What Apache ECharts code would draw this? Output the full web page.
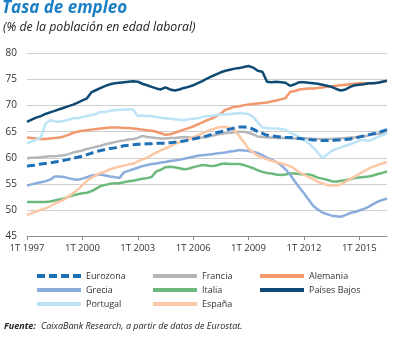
<!DOCTYPE html>
<html><head><meta charset="utf-8">
<script src="https://cdn.jsdelivr.net/npm/echarts@6/dist/echarts.min.js"></script>
<style>html,body{margin:0;padding:0;background:#fff}#c{width:394px;height:338px}</style>
</head><body><div id="c"></div>
<script>
// Categories: quarters 1T 1997 .. 3T 2016
const firstYear = 1997, lastYear = 2016, lastQuarter = 3;
const quarters = [];
for (let y = firstYear; y <= lastYear; y++) {
  for (let q = 1; q <= 4; q++) {
    if (y === lastYear && q > lastQuarter) break;
    quarters.push(q + 'T ' + y);
  }
}

const eurozona = [58.4,58.5,58.6,58.8, 58.9,59.0,59.2,59.3, 59.5,59.7,59.9,60.1, 60.3,60.6,60.9,61.2,
  61.4,61.6,61.8,61.9, 62.1,62.3,62.4,62.5, 62.6,62.6,62.7,62.7, 62.8,62.8,62.8,62.9,
  63.0,63.1,63.2,63.4, 63.6,63.8,64.0,64.2, 64.5,64.8,65.0,65.3, 65.5,65.7,65.9,65.9,
  65.8,65.5,65.0,64.7, 64.3,64.2,64.1,64.0, 63.9,63.9,63.8,63.7, 63.6,63.5,63.4,63.4,
  63.3,63.3,63.3,63.4, 63.4,63.5,63.6,63.8, 64.0,64.2,64.4,64.6, 64.8,65.1,65.4];

const francia = [59.9,60.0,60.0,60.1, 60.2,60.3,60.3,60.4, 60.5,60.7,61.0,61.2, 61.4,61.7,61.9,62.1,
  62.3,62.6,62.8,63.0, 63.2,63.3,63.5,63.6, 63.8,64.2,64.0,63.9, 63.8,63.7,63.7,63.8,
  63.8,63.9,64.0,63.9, 63.8,63.8,63.9,64.0, 64.2,64.4,64.6,64.7, 64.8,64.9,65.0,65.0,
  64.8,64.5,64.1,64.0, 63.9,63.9,63.8,63.8, 63.8,63.8,63.7,63.7, 63.7,63.7,63.6,63.6,
  63.6,63.6,63.6,63.7, 63.7,63.8,63.9,63.9, 64.0,64.1,64.3,64.5, 64.6,64.7,64.8];

const alemania = [63.9,63.8,63.7,63.6, 63.6,63.7,63.8,63.9, 64.1,64.4,64.8,65.0, 65.2,65.3,65.4,65.5,
  65.6,65.7,65.8,65.8, 65.8,65.7,65.7,65.6, 65.5,65.4,65.3,65.2, 65.0,64.7,64.4,64.5,
  64.8,65.1,65.4,65.7, 66.0,66.4,66.8,67.2, 67.5,68.0,68.5,69.2, 69.5,69.8,69.9,70.1,
  70.2,70.3,70.4,70.5, 70.6,70.8,71.0,71.2, 71.4,72.6,72.8,73.1, 73.2,73.3,73.3,73.4,
  73.5,73.6,73.7,73.8, 73.9,74.0,74.1,74.2, 74.3,74.3,74.3,74.3, 74.4,74.6,74.7];

const grecia = [54.7,54.9,55.1,55.3, 55.5,55.8,56.4,56.4, 56.3,56.1,55.9,55.8, 56.0,56.3,56.6,56.7,
  56.8,56.6,56.4,56.3, 56.1,57.2,57.5,57.8, 58.1,58.4,58.6,58.8, 58.9,59.1,59.2,59.4,
  59.5,59.6,59.8,60.0, 60.2,60.4,60.5,60.6, 60.7,60.8,60.9,61.0, 61.2,61.3,61.5,61.4,
  61.3,61.1,60.9,60.5, 60.0,59.6,59.2,58.6, 57.8,56.8,55.5,54.3, 53.2,52.0,50.8,50.1,
  49.5,49.2,48.9,48.8, 48.7,49.0,49.4,49.6, 49.9,50.2,50.6,51.1, 51.6,51.9,52.2];

const italia = [51.5,51.5,51.5,51.5, 51.5,51.6,51.8,52.0, 52.2,52.5,52.8,53.0, 53.2,53.3,53.6,54.1,
  54.6,54.8,55.0,55.1, 55.1,55.3,55.5,55.6, 55.8,56.0,56.1,56.3, 57.4,57.7,58.2,58.3,
  58.2,58.0,57.8,57.9, 58.2,58.4,58.6,58.5, 58.4,58.5,58.8,58.9, 58.8,58.8,58.8,58.6,
  58.3,58.0,57.6,57.3, 57.1,57.0,56.8,56.7, 56.8,57.0,57.0,56.9, 56.8,56.8,56.6,56.2,
  56.0,55.8,55.5,55.4, 55.6,55.7,55.9,56.1, 56.2,56.3,56.4,56.6, 56.9,57.1,57.4];

const paisesBajos = [66.9,67.3,67.7,68.0, 68.4,68.7,69.0,69.3, 69.6,69.9,70.2,70.6, 71.0,71.4,72.6,73.0,
  73.4,73.8,74.1,74.3, 74.4,74.5,74.6,74.7, 74.6,74.2,73.9,73.6, 73.3,73.1,73.5,73.1,
  72.9,73.1,73.4,73.6, 73.9,74.3,74.7,75.2, 75.6,76.0,76.4,76.7, 76.9,77.1,77.2,77.4,
  77.6,77.3,76.7,76.5, 74.6,74.5,74.6,74.5, 74.4,73.8,74.1,74.5, 74.5,74.4,74.3,74.2,
  74.0,73.8,73.6,73.2, 72.9,73.1,73.6,73.9, 74.0,74.1,74.3,74.3, 74.4,74.6,74.8];

const portugal = [62.8,63.1,63.5,63.9, 66.5,67.2,67.0,66.9, 67.1,67.3,67.6,67.6, 67.8,68.0,68.2,68.4,
  68.8,68.8,69.0,69.1, 69.2,69.2,69.3,69.2, 68.0,68.1,68.0,68.0, 67.8,67.7,67.6,67.5,
  67.4,67.3,67.2,67.4, 67.5,67.6,67.8,68.0, 68.0,68.2,68.3,68.3, 68.4,68.5,68.6,68.5,
  68.4,67.8,66.8,65.8, 65.7,65.6,65.6,65.5, 65.4,64.8,64.4,64.0, 63.4,62.8,62.0,61.0,
  59.9,60.6,61.3,61.7, 62.0,62.3,62.6,62.9, 63.3,63.4,63.2,63.6, 64.0,64.3,64.7];

const espana = [49.0,49.4,49.7,50.0, 50.3,50.7,51.2,51.6, 52.0,52.6,53.2,53.9, 54.7,55.6,56.2,56.7,
  57.1,57.4,57.8,58.1, 58.3,58.5,58.7,58.9, 59.3,59.7,60.0,60.5, 61.0,61.4,61.8,62.2,
  62.6,63.0,63.3,63.6, 63.9,64.3,64.7,65.1, 65.4,65.7,65.9,65.9, 65.7,65.2,64.2,63.0,
  61.7,61.0,60.4,60.0, 59.7,59.4,59.2,58.9, 58.7,58.4,57.9,57.2, 56.8,56.3,55.9,55.4,
  55.1,54.8,54.7,54.7, 54.9,55.4,55.9,56.4, 56.9,57.4,57.9,58.3, 58.6,58.9,59.2];

const yMin = 45, yMax = 80, yStep = 5;

const FONT = "'Open Sans', 'Noto Sans', sans-serif";

const colors = {
  'Eurozona': '#1d6fb6', 'Francia': '#b4b7ba', 'Alemania': '#f1996c', 'Grecia': '#8aaddd',
  'Italia': '#6cb97c', 'Países Bajos': '#0f4a74', 'Portugal': '#bde3f7', 'España': '#fcc7a4'
};

function line(name, data, extra) {
  const color = colors[name];
  return Object.assign({
    name: name, type: 'line', data: data, symbol: 'none', smooth: false,
    lineStyle: { color: color, width: 2.5 }, itemStyle: { color: color },
    emphasis: { disabled: true }
  }, extra || {});
}

const series = [
  line('Francia', francia),
  line('Italia', italia),
  line('Grecia', grecia),
  line('Alemania', alemania),
  line('Países Bajos', paisesBajos),
  line('España', espana),
  line('Portugal', portugal),
  line('Eurozona', eurozona, { lineStyle: { color: colors['Eurozona'], width: 3, type: [8, 4] } })
];

const dashIcon = 'path://M0,0h8v4h-8zM12,0h8v4h-8zM24,0h8v4h-8zM36,0h8v4h-8z';
const legendText = { fontFamily: FONT, fontSize: 9, color: '#333', lineHeight: 10 };
function legend(left, names) {
  return {
    orient: 'vertical', left: left, top: 271, itemWidth: 44, itemHeight: 4, itemGap: 4,
    selectedMode: false, padding: 0, textStyle: legendText,
    data: names.map(n => ({ name: n, icon: n === 'Eurozona' ? dashIcon : 'rect',
      itemStyle: { color: colors[n] } }))
  };
}

const chart = echarts.init(document.getElementById('c'), null, { renderer: 'canvas' });
chart.setOption({
  animation: false,
  backgroundColor: '#fff',
  title: [
    { text: 'Tasa de empleo', left: 2, top: 0, padding: 0,
      textStyle: { fontFamily: FONT, fontSize: 17, fontWeight: 'bold', fontStyle: 'italic', color: '#1a7fc3' } },
    { text: '(% de la población en edad laboral)', left: 3, top: 21, padding: 0,
      textStyle: { fontFamily: FONT, fontSize: 12.3, fontWeight: 'normal', fontStyle: 'italic', color: '#222' } },
    { text: '{b|Fuente:} {i|CaixaBank Research, a partir de datos de Eurostat.}', left: 4, top: 317, padding: 0,
      textStyle: { fontWeight: 'normal', rich: {
        b: { fontFamily: FONT, fontSize: 9, fontWeight: 'bold', fontStyle: 'italic', color: '#222' },
        i: { fontFamily: FONT, fontSize: 9, fontWeight: 'normal', fontStyle: 'italic', color: '#222' } } } }
  ],
  legend: [
    legend(37, ['Eurozona', 'Grecia', 'Portugal']),
    legend(153, ['Francia', 'Italia', 'España']),
    legend(260, ['Alemania', 'Países Bajos'])
  ],
  grid: { left: 27, right: 7, top: 53.5, bottom: 102 },
  xAxis: {
    type: 'category', data: quarters, boundaryGap: false,
    axisLine: { lineStyle: { color: '#8c8c8c', width: 1 } },
    axisTick: { interval: 11, length: 4, lineStyle: { color: '#8c8c8c' } },
    axisLabel: { interval: 11, color: '#333', fontSize: 9.5, fontFamily: FONT, margin: 7 },
    splitLine: { show: false }
  },
  yAxis: {
    type: 'value', min: yMin, max: yMax, interval: yStep,
    axisLine: { show: false }, axisTick: { show: false },
    axisLabel: { color: '#333', fontSize: 10, fontFamily: FONT, margin: 10 },
    splitLine: { lineStyle: { color: '#cfcfcf', width: 1 } }
  },
  series: series
});
</script>
</body></html>
